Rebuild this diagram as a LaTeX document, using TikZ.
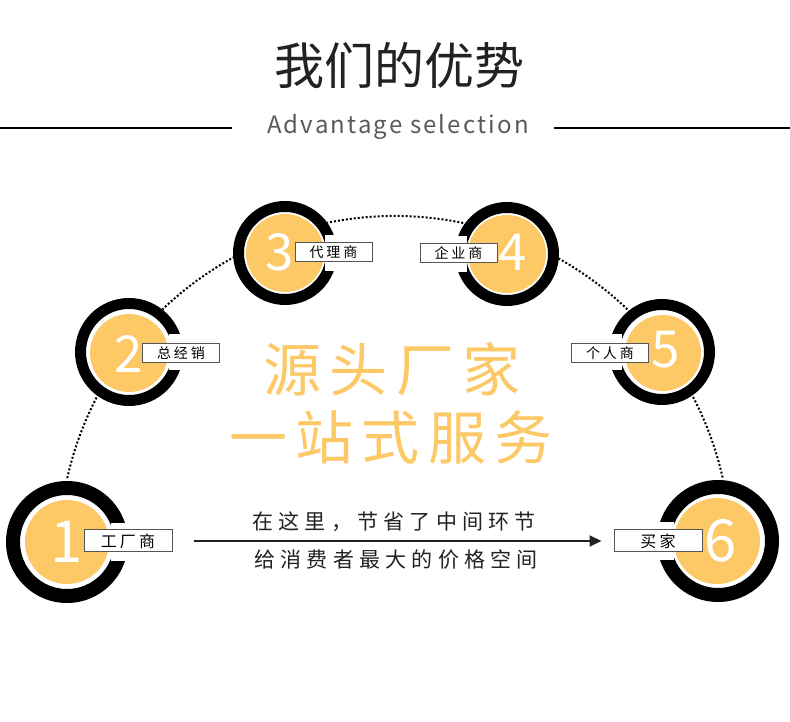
\documentclass[tikz,border=0pt]{standalone}
\usepackage{fontspec}
\setmainfont{Noto Sans CJK SC}
\usetikzlibrary{arrows.meta}
\definecolor{gold}{RGB}{253,200,102}
\definecolor{ink}{RGB}{34,34,34}
\definecolor{frame}{RGB}{85,85,85}
\definecolor{subgray}{RGB}{90,90,90}

\begin{document}
\begin{tikzpicture}[x=1pt,y=1pt,
  ring/.style={fill=black,even odd rule},
  disk/.style={circle,fill=gold,inner sep=0pt},
  num/.style={text=white,inner sep=0pt,font=\fontsize{58}{58}\selectfont},
  smallnum/.style={num,font=\fontsize{51}{51}\selectfont},
  tag/.style={draw=frame,line width=1pt,fill=white,inner sep=0pt,
    minimum width=77pt,minimum height=19pt,
    font=\fontsize{14}{14}\selectfont\addfontfeatures{LetterSpace=20}},
  bigtag/.style={tag,minimum width=88pt,minimum height=22pt,
    font=\fontsize{16}{16}\selectfont\addfontfeatures{LetterSpace=20}},
  dots/.style={line width=2pt,dash pattern=on 2pt off 2pt},
  slogan/.style={text=gold,inner sep=0pt,
    font=\fontsize{58}{58}\selectfont\addfontfeatures{LetterSpace=14}},
  note/.style={text=ink,inner sep=0pt,
    font=\fontsize{21}{21}\selectfont\addfontfeatures{LetterSpace=25}}]
\fill[white] (0,0) rectangle (790,722);
\useasboundingbox (0,0) rectangle (790,722);

% header
\node[text=ink,inner sep=0pt,font=\fontsize{50}{50}\selectfont] (title) at (399,657) {我们的优势};
\node[text=subgray,inner sep=0pt,anchor=base,
  font=\fontsize{24}{24}\selectfont\addfontfeatures{LetterSpace=9}] (sub) at (398,588) {Advantage selection};
\draw[line width=2pt] (0,594) -- (232,594);
\draw[line width=2pt] (554,594) -- (790,594);

% dotted arc behind the circles
\coordinate (arcc) at (395,170);
\draw[dots] (arcc) ++(167.3:336) arc[start angle=167.3,end angle=12.7,radius=336];

% circle 1
\fill[white] (67,180) circle (61);
\fill[ring] (67,180) circle (61) circle (47);
\fill[white] (111,161) rectangle (130,199);
\node[disk,minimum size=84pt] (c1) at (67,180) {};
\node[num] (n1) at (67,180) {1};
\node[bigtag] (l1) at (128,181) {工厂商};

% circle 2
\fill[white] (129,370) circle (54);
\fill[ring] (129,370) circle (54) circle (43);
\fill[white] (169,352) rectangle (185,388);
\node[disk,minimum size=78pt] (c2) at (129,369) {};
\node[smallnum] (n2) at (129,368) {2};
\node[tag] (l2) at (181,368.5) {总经销};

% circle 3
\fill[white] (285,469) circle (52);
\fill[ring] (285,469) circle (52) circle (41);
\fill[white] (325,451) rectangle (339,487);
\node[disk,minimum size=78pt] (c3) at (285,469) {};
\node[smallnum] (n3) at (280,470) {3};
\node[tag] (l3) at (333.5,469.5) {代理商};

% circle 4
\fill[white] (507,468) circle (52);
\fill[ring] (507,468) circle (52) circle (41);
\fill[white] (453,450) rectangle (467,486);
\node[disk,minimum size=78pt] (c4) at (507,468) {};
\node[smallnum] (n4) at (513,470) {4};
\node[tag] (l4) at (458.5,469) {企业商};

% circle 5
\fill[white] (662,370) circle (53);
\fill[ring] (662,370) circle (53) circle (42);
\fill[white] (607,352) rectangle (622,388);
\node[disk,minimum size=76pt] (c5) at (663,369) {};
\node[smallnum] (n5) at (666,372) {5};
\node[tag] (l5) at (610,368.5) {个人商};

% circle 6
\fill[white] (718,181) circle (61);
\fill[ring] (718,181) circle (61) circle (47);
\fill[white] (655,162) rectangle (674,200);
\node[disk,minimum size=86pt] (c6) at (717,181) {};
\node[num] (n6) at (721,181) {6};
\node[bigtag] (l6) at (658,181) {买家};

% slogan
\node[slogan] (s1) at (392,353) {源头厂家};
\node[slogan] (s2) at (391,285) {一站式服务};

% arrow with notes
\draw[ink,line width=2pt,-{Triangle[length=12pt,width=11pt]},shorten <=21pt,shorten >=12pt] (l1) -- (l6);
\node[note] (t1) at (394,200) {在这里，节省了中间环节};
\node[note] (t2) at (396,162) {给消费者最大的价格空间};
\end{tikzpicture}
\end{document}
